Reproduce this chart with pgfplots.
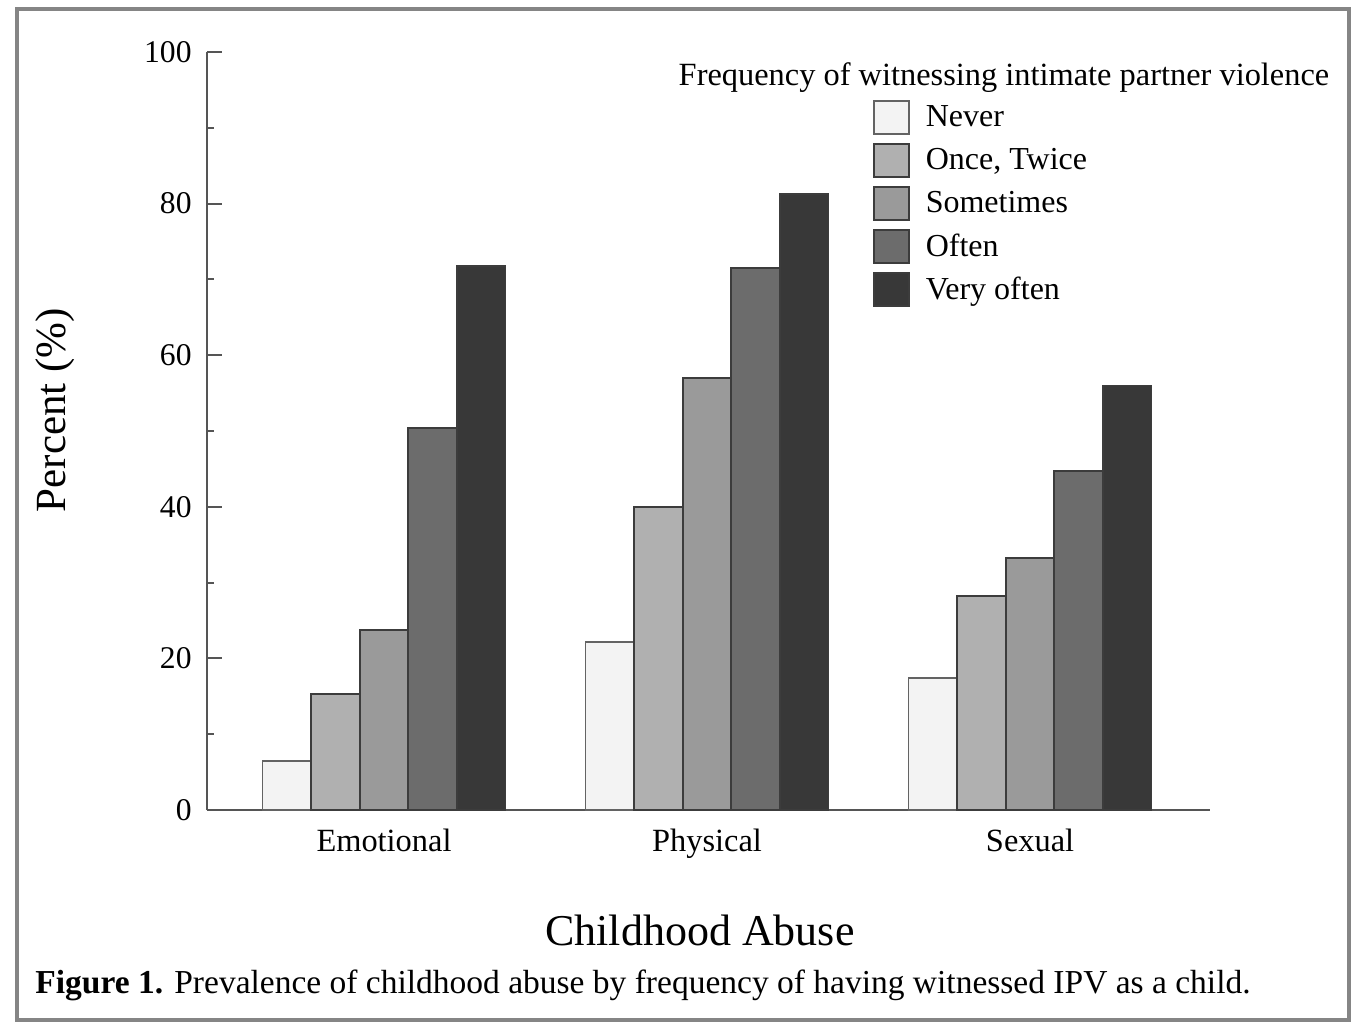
\documentclass[border=0pt]{standalone}
\usepackage{fontspec}
\setmainfont{Liberation Serif}
\usepackage{pgfplots}
\pgfplotsset{compat=1.18}
\definecolor{cNever}{HTML}{F3F3F3}
\definecolor{cOnce}{HTML}{B0B0B0}
\definecolor{cSome}{HTML}{9A9A9A}
\definecolor{cOften}{HTML}{6C6C6C}
\definecolor{cVery}{HTML}{383838}
\definecolor{cEdge}{HTML}{3C3C3C}
\definecolor{cAxis}{HTML}{555555}
\definecolor{cFrame}{HTML}{858585}
\begin{document}
\begin{tikzpicture}
\useasboundingbox (0,0) rectangle (680.5pt,512pt);
\draw[cFrame, line width=2pt] (8.5pt,2pt) rectangle (674.5pt,507.5pt);
\begin{axis}[
  at={(103.5pt,107pt)}, anchor=south west,
  scale only axis, width=501.5pt, height=379pt,
  xmin=-0.548, xmax=2.557, ymin=0, ymax=100,
  axis x line=bottom, axis y line=left,
  axis line style={-, cAxis, line width=1.2pt},
  ybar=0pt, bar width=24.3pt,
  xtick={0,1,2}, xticklabels={Emotional,Physical,Sexual},
  major x tick style={draw=none},
  ytick={0,20,40,60,80,100}, minor y tick num=1,
  tick align=inside,
  major tick length=7.5pt, minor tick length=3.5pt,
  y tick style={cAxis, line width=1pt},
  /pgf/number format/assume math mode=true,
  yticklabel style={font=\fontsize{15.8}{15.8}\selectfont, anchor=east, inner sep=0pt, xshift=-7.5pt},
  xticklabel style={font=\fontsize{16.2}{16.2}\selectfont, anchor=north, inner sep=0pt, yshift=-9.5pt},
  ylabel={Percent (\%)},
  every axis y label/.style={at={(axis description cs:-0.1515,0.5277)}, rotate=90, anchor=center, font=\fontsize{21.5}{21.5}\selectfont},
  xlabel={Childhood Abuse},
  every axis x label/.style={at={(axis description cs:0.4915,-0.1583)}, anchor=center, font=\fontsize{22}{22}\selectfont},
  clip=false,
  legend cell align=left,
  legend image code/.code={\draw[#1, line width=0.9pt] (0pt,-8.25pt) rectangle (17.5pt,8.25pt);},
  legend style={at={(0.664,0.9367)}, anchor=north west, draw=none, fill=none,
    inner sep=0pt, outer sep=0pt, row sep=4.1pt,
    font=\fontsize{16}{16}\selectfont,
    nodes={inner sep=0pt, anchor=west},
    /tikz/every odd column/.append style={column sep=8pt}},
]
\addplot[fill=cNever, draw=cEdge!80, line width=0.9pt] coordinates {(0,6.5) (1,22.2) (2,17.4)};
\addplot[fill=cOnce, draw=cEdge, line width=0.9pt] coordinates {(0,15.3) (1,40.0) (2,28.2)};
\addplot[fill=cSome, draw=cEdge, line width=0.9pt] coordinates {(0,23.7) (1,57.0) (2,33.2)};
\addplot[fill=cOften, draw=cEdge, line width=0.9pt] coordinates {(0,50.4) (1,71.5) (2,44.7)};
\addplot[fill=cVery, draw=cEdge, line width=0.9pt] coordinates {(0,71.8) (1,81.3) (2,56.0)};
\legend{Never, {Once, Twice}, Sometimes, Often, Very often}
\node[anchor=center, font=\fontsize{16.2}{16.2}\selectfont, inner sep=0pt] at (rel axis cs:0.7946,0.9657) {Frequency of witnessing intimate partner violence};
\end{axis}
\node[anchor=west, inner sep=0pt, font=\fontsize{16.75}{16.75}\selectfont] at (17.5pt,19.5pt) {\textbf{Figure 1.} Prevalence of childhood abuse by frequency of having witnessed IPV as a child.};
\end{tikzpicture}
\end{document}
